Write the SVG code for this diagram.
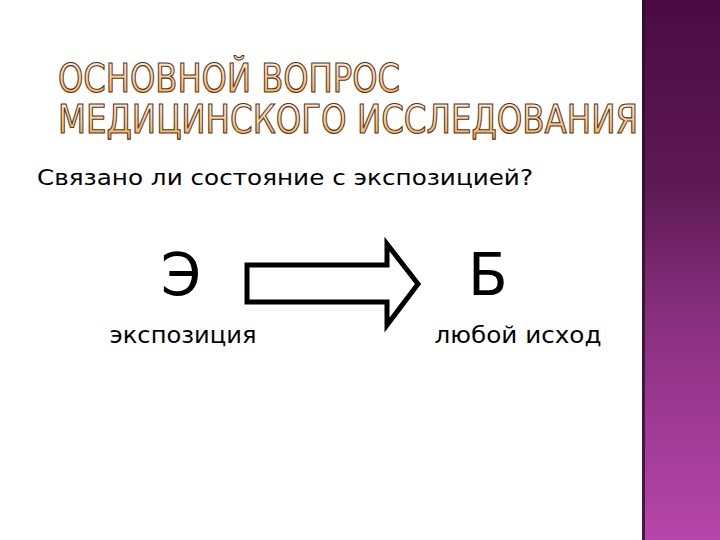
<svg xmlns="http://www.w3.org/2000/svg" width="720" height="540" viewBox="0 0 720 540">
<defs>
<linearGradient id="panel" x1="0" y1="0" x2="0" y2="1">
<stop offset="0" stop-color="#4a0a42"/>
<stop offset="0.35" stop-color="#5e1a55"/>
<stop offset="0.6" stop-color="#8a3080"/>
<stop offset="1" stop-color="#b646aa"/>
</linearGradient>
<linearGradient id="title" x1="0" y1="0" x2="0" y2="1">
<stop offset="0" stop-color="#fff4e4"/>
<stop offset="0.6" stop-color="#f9c98a"/>
<stop offset="1" stop-color="#f0a448"/>
</linearGradient>
<style>
.t{font-family:"DejaVu Sans Condensed","DejaVu Sans","Open Sans",sans-serif;font-stretch:condensed;font-size:39px;fill:url(#title);stroke:#5a3418;stroke-width:1.1;}
.b{font-family:"DejaVu Sans","Open Sans",sans-serif;fill:#000;}
</style>
</defs>
<rect width="720" height="540" fill="#fff"/>
<g id="panel-side">
<rect x="642" y="0" width="78" height="540" fill="url(#panel)"/>
<rect x="642" y="0" width="3" height="540" fill="#2e0c2a" opacity="0.8"/>
</g>
<g id="title">
<text class="t" x="58" y="92" textLength="342" lengthAdjust="spacingAndGlyphs">ОСНОВНОЙ ВОПРОС</text>
<text class="t" x="58" y="133" textLength="580" lengthAdjust="spacingAndGlyphs">МЕДИЦИНСКОГО ИССЛЕДОВАНИЯ</text>
</g>
<g id="question">
<text class="b" x="37" y="185" font-size="22" textLength="496" lengthAdjust="spacingAndGlyphs">Связано ли состояние с экспозицией?</text>
</g>
<g id="node-E">
<text class="b" x="181" y="295" font-size="58" text-anchor="middle">Э</text>
<text class="b" x="183" y="343" font-size="23" text-anchor="middle" textLength="147" lengthAdjust="spacingAndGlyphs">экспозиция</text>
</g>
<g id="node-B">
<text class="b" x="488" y="295" font-size="58" text-anchor="middle">Б</text>
<text class="b" x="518" y="343" font-size="23" text-anchor="middle" textLength="167" lengthAdjust="spacingAndGlyphs">любой исход</text>
</g>
<g id="connectors">
<path d="M247 265 H387 V244 L418 284 L387 325 V302 H247 Z" fill="#fff" stroke="#000" stroke-width="5" stroke-linejoin="miter"/>
</g>
</svg>
